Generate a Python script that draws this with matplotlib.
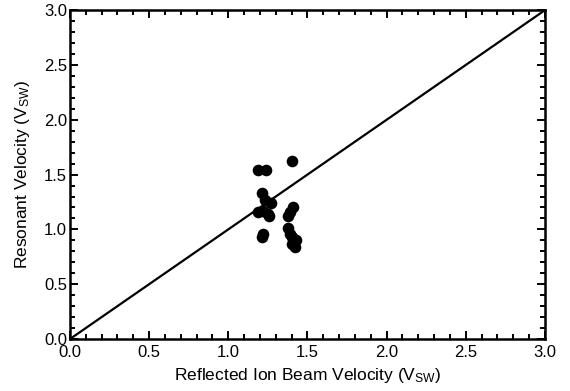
import matplotlib
matplotlib.use("Agg")
import matplotlib.pyplot as plt
from matplotlib.ticker import MultipleLocator

plt.rcParams['font.family'] = ['Liberation Sans', 'DejaVu Sans']
plt.rcParams['mathtext.fontset'] = 'custom'
plt.rcParams['mathtext.rm'] = 'Liberation Sans'
plt.rcParams['mathtext.it'] = 'Liberation Sans'

beam_velocity = [1.19, 1.24, 1.40, 1.21, 1.23, 1.27, 1.19, 1.22, 1.26, 1.25,
                 1.22, 1.21, 1.41, 1.39, 1.38, 1.38, 1.39, 1.40, 1.43, 1.40, 1.42]
resonant_velocity = [1.54, 1.54, 1.62, 1.33, 1.27, 1.24, 1.16, 1.17, 1.12, 1.14,
                     0.96, 0.93, 1.20, 1.16, 1.12, 1.01, 0.96, 0.93, 0.90, 0.87, 0.84]
line_x = [0.0, 3.0]
line_y = [0.0, 3.0]

fig = plt.figure(figsize=(5.7, 3.91), dpi=100)
ax = fig.add_axes([0.1228, 0.133, 0.8332, 0.841])

ax.plot(line_x, line_y, color='black', linewidth=1.6)
ax.scatter(beam_velocity, resonant_velocity, s=70, color='black', zorder=3, linewidths=0)

ax.set_xlim(0, 3)
ax.set_ylim(0, 3)
ax.xaxis.set_major_locator(MultipleLocator(0.5))
ax.yaxis.set_major_locator(MultipleLocator(0.5))
ax.xaxis.set_minor_locator(MultipleLocator(0.1))
ax.yaxis.set_minor_locator(MultipleLocator(0.1))
ax.xaxis.set_major_formatter(matplotlib.ticker.FormatStrFormatter('%.1f'))
ax.yaxis.set_major_formatter(matplotlib.ticker.FormatStrFormatter('%.1f'))
ax.tick_params(which='both', direction='in', top=True, right=True, width=1.4,
               labelsize=12, colors='black')
ax.tick_params(axis='x', which='major', length=6, pad=4)
ax.tick_params(axis='y', which='major', length=6, pad=2)
ax.tick_params(which='minor', length=3.5)
for sp in ax.spines.values():
    sp.set_linewidth(1.8)

ax.set_xlabel(r'Reflected Ion Beam Velocity (V$_{\mathregular{SW}}$)', fontsize=12.5, labelpad=5)
ax.set_ylabel(r'Resonant Velocity (V$_{\mathregular{SW}}$)', fontsize=12.5, labelpad=9)

fig.savefig('out.png', dpi=100)
